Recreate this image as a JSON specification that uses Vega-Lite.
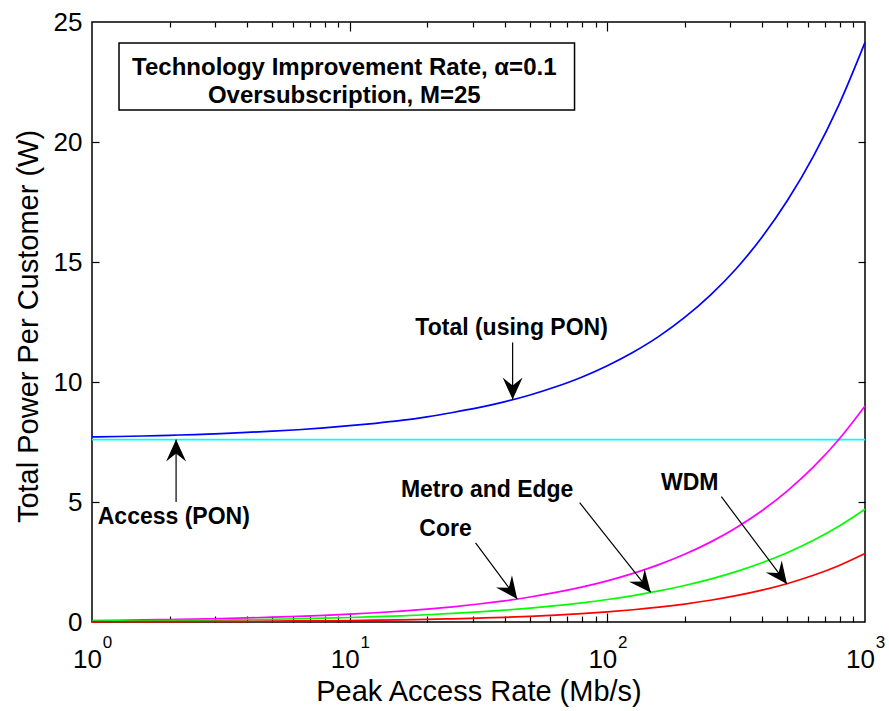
{
  "$schema": "https://vega.github.io/schema/vega-lite/v6.json",
  "width": 773,
  "height": 600,
  "autosize": {"type": "none"},
  "padding": {"left": 92, "top": 22, "right": 24, "bottom": 89},
  "background": "white",
  "config": {
    "view": {"stroke": "#000", "strokeWidth": 1.5},
    "font": "Liberation Sans",
    "axis": {"grid": false, "domain": false, "labelColor": "#000", "tickColor": "#000", "titleColor": "#000", "labelFont": "Liberation Sans", "titleFont": "Liberation Sans", "tickWidth": 1.2}
  },
  "datasets": {
    "curves": [
      {"x": 1, "Total": 7.71, "Access": 7.6, "Core": 0.062, "Metro": 0.037, "WDM": 0.009},
      {"x": 1.259, "Total": 7.73, "Access": 7.6, "Core": 0.073, "Metro": 0.044, "WDM": 0.011},
      {"x": 1.585, "Total": 7.75, "Access": 7.6, "Core": 0.087, "Metro": 0.052, "WDM": 0.014},
      {"x": 1.995, "Total": 7.78, "Access": 7.6, "Core": 0.102, "Metro": 0.061, "WDM": 0.016},
      {"x": 2.512, "Total": 7.81, "Access": 7.6, "Core": 0.121, "Metro": 0.071, "WDM": 0.02},
      {"x": 3.162, "Total": 7.85, "Access": 7.6, "Core": 0.143, "Metro": 0.084, "WDM": 0.024},
      {"x": 3.981, "Total": 7.9, "Access": 7.6, "Core": 0.168, "Metro": 0.098, "WDM": 0.029},
      {"x": 5.012, "Total": 7.95, "Access": 7.6, "Core": 0.199, "Metro": 0.115, "WDM": 0.035},
      {"x": 6.31, "Total": 8.01, "Access": 7.6, "Core": 0.235, "Metro": 0.136, "WDM": 0.043},
      {"x": 7.943, "Total": 8.09, "Access": 7.6, "Core": 0.277, "Metro": 0.159, "WDM": 0.052},
      {"x": 10, "Total": 8.18, "Access": 7.6, "Core": 0.327, "Metro": 0.187, "WDM": 0.062},
      {"x": 12.59, "Total": 8.28, "Access": 7.6, "Core": 0.386, "Metro": 0.22, "WDM": 0.075},
      {"x": 15.85, "Total": 8.4, "Access": 7.6, "Core": 0.455, "Metro": 0.258, "WDM": 0.091},
      {"x": 19.95, "Total": 8.55, "Access": 7.6, "Core": 0.537, "Metro": 0.303, "WDM": 0.111},
      {"x": 25.12, "Total": 8.73, "Access": 7.6, "Core": 0.634, "Metro": 0.357, "WDM": 0.134},
      {"x": 31.62, "Total": 8.93, "Access": 7.6, "Core": 0.749, "Metro": 0.419, "WDM": 0.162},
      {"x": 39.81, "Total": 9.17, "Access": 7.6, "Core": 0.884, "Metro": 0.492, "WDM": 0.196},
      {"x": 50.12, "Total": 9.46, "Access": 7.6, "Core": 1.043, "Metro": 0.578, "WDM": 0.238},
      {"x": 63.1, "Total": 9.8, "Access": 7.6, "Core": 1.231, "Metro": 0.679, "WDM": 0.288},
      {"x": 79.43, "Total": 10.2, "Access": 7.6, "Core": 1.453, "Metro": 0.798, "WDM": 0.348},
      {"x": 100, "Total": 10.68, "Access": 7.6, "Core": 1.715, "Metro": 0.938, "WDM": 0.422},
      {"x": 125.9, "Total": 11.24, "Access": 7.6, "Core": 2.024, "Metro": 1.102, "WDM": 0.51},
      {"x": 158.5, "Total": 11.9, "Access": 7.6, "Core": 2.389, "Metro": 1.294, "WDM": 0.618},
      {"x": 199.5, "Total": 12.69, "Access": 7.6, "Core": 2.82, "Metro": 1.521, "WDM": 0.748},
      {"x": 251.2, "Total": 13.62, "Access": 7.6, "Core": 3.328, "Metro": 1.787, "WDM": 0.905},
      {"x": 316.2, "Total": 14.72, "Access": 7.6, "Core": 3.929, "Metro": 2.099, "WDM": 1.096},
      {"x": 398.1, "Total": 16.03, "Access": 7.6, "Core": 4.637, "Metro": 2.467, "WDM": 1.327},
      {"x": 501.2, "Total": 17.58, "Access": 7.6, "Core": 5.473, "Metro": 2.898, "WDM": 1.606},
      {"x": 631, "Total": 19.41, "Access": 7.6, "Core": 6.46, "Metro": 3.405, "WDM": 1.945},
      {"x": 794.3, "Total": 21.58, "Access": 7.6, "Core": 7.625, "Metro": 4.0, "WDM": 2.354},
      {"x": 1000, "Total": 24.15, "Access": 7.6, "Core": 9.0, "Metro": 4.7, "WDM": 2.85}
    ],
    "arrows": [
      {"name": "total", "x1": 42.9, "y1": 11.65, "x2": 42.9, "y2": 9.27},
      {"name": "access", "x1": 2.12, "y1": 5.0, "x2": 2.12, "y2": 7.6},
      {"name": "core", "x1": 30.8, "y1": 3.3, "x2": 44.7, "y2": 0.96},
      {"name": "metro", "x1": 78.1, "y1": 4.97, "x2": 147.4, "y2": 1.23},
      {"name": "wdm", "x1": 277, "y1": 5.22, "x2": 498, "y2": 1.58}
    ],
    "labels": [
      {"label": "Total (using PON)", "x": 42.5, "y": 11.96},
      {"label": "Access (PON)", "x": 2.077, "y": 4.08},
      {"label": "Core", "x": 23.54, "y": 3.58},
      {"label": "Metro and Edge", "x": 34.16, "y": 5.22},
      {"label": "WDM", "x": 208.9, "y": 5.5}
    ],
    "box": [{"x1": 1.273, "x2": 74.6, "y1": 21.33, "y2": 24.125}],
    "boxtext": [
      {"line": "Technology Improvement Rate, α=0.1", "x": 9.53, "y": 22.79},
      {"line": "Oversubscription, M=25", "x": 9.53, "y": 21.625}
    ]
  },
  "layer": [
    {
      "data": {"name": "curves"},
      "transform": [{"fold": ["Total", "Access", "Core", "Metro", "WDM"], "as": ["series", "value"]}],
      "mark": {"type": "line", "strokeWidth": 1.7, "interpolate": "monotone"},
      "encoding": {
        "x": {"field": "x", "type": "quantitative", "scale": {"type": "log", "domain": [1, 1000], "nice": false},
          "axis": {"orient": "bottom", "values": [1, 10, 100, 1000], "ticks": false, "labelExpr": "'10'", "labelFontSize": 26, "labelPadding": 45, "labelBaseline": "alphabetic", "labelOffset": -5, "labelFlush": false, "labelOverlap": false,
            "title": "Peak Access Rate (Mb/s)", "titleFontSize": 29, "titleFontWeight": "normal", "titleY": 78, "titleBaseline": "alphabetic"}},
        "y": {"field": "value", "type": "quantitative", "scale": {"domain": [0, 25], "nice": false, "zero": false},
          "axis": {"orient": "left", "values": [0, 5, 10, 15, 20, 25], "ticks": false, "labelFontSize": 26, "labelPadding": 10, "labelBaseline": "middle", "labelFlush": false, "labelOverlap": false,
            "title": "Total Power Per Customer (W)", "titleFontSize": 29, "titleFontWeight": "normal", "titleX": -55, "titleY": 304, "titleBaseline": "alphabetic", "titleAngle": -90, "titleAlign": "center"}},
        "color": {"field": "series", "type": "nominal", "scale": {"domain": ["Total", "Access", "Core", "Metro", "WDM"], "range": ["#0000ff", "#00ffff", "#ff00ff", "#00ff00", "#ff0000"]}, "legend": null}
      }
    },
    {
      "data": {"name": "arrows"},
      "mark": {"type": "rule", "color": "#000", "strokeWidth": 1.2},
      "encoding": {
        "x": {"field": "x1", "type": "quantitative", "scale": {"type": "log", "domain": [1, 1000], "nice": false},
          "axis": {"orient": "bottom", "values": [1, 10, 100, 1000], "ticks": false, "labelExpr": "datum.value == 1 ? '0' : datum.value == 10 ? '1' : datum.value == 100 ? '2' : '3'", "labelFontSize": 17, "labelPadding": 25, "labelBaseline": "alphabetic", "labelOffset": 15, "labelFlush": false, "labelOverlap": false, "title": null}},
        "x2": {"field": "x2"},
        "y": {"field": "y1", "type": "quantitative", "scale": {"domain": [0, 25], "nice": false, "zero": false},
          "axis": {"orient": "right", "values": [5, 10, 15, 20], "labels": false, "tickSize": 7, "offset": -7, "title": null}},
        "y2": {"field": "y2"}
      }
    },
    {
      "data": {"name": "arrows"},
      "mark": {"type": "point", "shape": "M0,0 L-0.5,1.1 L0,0.7 L0.5,1.1 Z", "filled": true, "color": "#000", "opacity": 1, "size": 1600, "strokeWidth": 0},
      "encoding": {
        "x": {"field": "x2", "type": "quantitative", "scale": {"type": "log", "domain": [1, 1000], "nice": false},
          "axis": {"orient": "bottom", "values": [10, 100], "labels": false, "tickSize": 9, "offset": -9, "title": null}},
        "y": {"field": "y2", "type": "quantitative", "scale": {"domain": [0, 25], "nice": false, "zero": false},
          "axis": {"orient": "left", "values": [5, 10, 15, 20], "labels": false, "tickSize": 7, "offset": -7, "title": null}},
        "angle": {"condition": [
          {"test": "datum.name === 'total'", "value": 180},
          {"test": "datum.name === 'access'", "value": 0},
          {"test": "datum.name === 'metro'", "value": 141}
        ], "value": 143}
      }
    },
    {
      "data": {"name": "labels"},
      "mark": {"type": "text", "font": "Liberation Sans", "fontWeight": "bold", "fontSize": 23, "align": "center", "baseline": "alphabetic", "color": "#000"},
      "encoding": {
        "x": {"field": "x", "type": "quantitative", "scale": {"type": "log", "domain": [1, 1000], "nice": false},
          "axis": {"orient": "bottom", "values": [2, 3, 4, 5, 6, 7, 8, 9, 20, 30, 40, 50, 60, 70, 80, 90, 200, 300, 400, 500, 600, 700, 800, 900], "labels": false, "tickSize": 6, "offset": -6, "title": null}},
        "y": {"field": "y", "type": "quantitative", "scale": {"domain": [0, 25], "nice": false, "zero": false}, "axis": null},
        "text": {"field": "label"}
      }
    },
    {
      "data": {"name": "box"},
      "mark": {"type": "rect", "fill": "white", "stroke": "#000", "strokeWidth": 1.5},
      "encoding": {
        "x": {"field": "x1", "type": "quantitative", "scale": {"type": "log", "domain": [1, 1000], "nice": false},
          "axis": {"orient": "top", "values": [10, 100], "labels": false, "tickSize": 9, "offset": -9, "title": null}},
        "x2": {"field": "x2"},
        "y": {"field": "y1", "type": "quantitative", "scale": {"domain": [0, 25], "nice": false, "zero": false}, "axis": null},
        "y2": {"field": "y2"}
      }
    },
    {
      "data": {"name": "boxtext"},
      "mark": {"type": "text", "font": "Liberation Sans", "fontWeight": "bold", "fontSize": 24, "align": "center", "baseline": "alphabetic", "color": "#000"},
      "encoding": {
        "x": {"field": "x", "type": "quantitative", "scale": {"type": "log", "domain": [1, 1000], "nice": false},
          "axis": {"orient": "top", "values": [2, 3, 4, 5, 6, 7, 8, 9, 20, 30, 40, 50, 60, 70, 80, 90, 200, 300, 400, 500, 600, 700, 800, 900], "labels": false, "tickSize": 5, "offset": -5, "title": null}},
        "y": {"field": "y", "type": "quantitative", "scale": {"domain": [0, 25], "nice": false, "zero": false}, "axis": null},
        "text": {"field": "line"}
      }
    }
  ],
  "resolve": {"axis": {"x": "independent", "y": "independent"}}
}
